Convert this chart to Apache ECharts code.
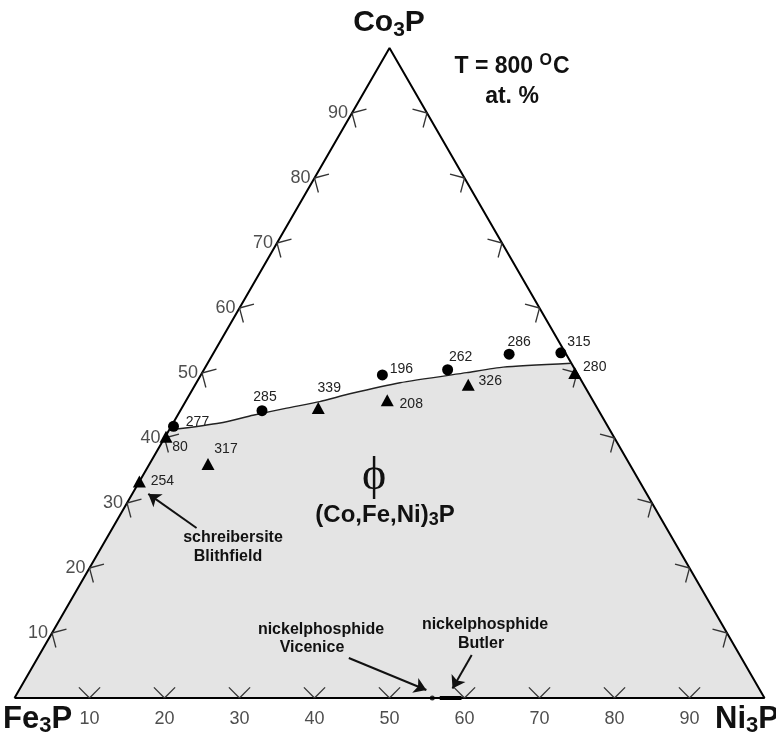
<!DOCTYPE html>
<html><head><meta charset="utf-8">
<script src="https://cdn.jsdelivr.net/npm/echarts@6/dist/echarts.min.js"></script>
<style>html,body{margin:0;padding:0;background:#fff}#c{width:776px;height:736px}</style>
</head><body><div id="c"></div>
<script>
// ---- Data (ternary, at.%: Co and Ni given, Fe = 100 - Co - Ni) ----
const tickValues = [10, 20, 30, 40, 50, 60, 70, 80, 90];
const circleIds = ['277', '285', '196', '262', '286', '315'];
const circleCo  = [41.8, 44.2, 49.7, 50.5, 52.9, 53.1];
const circleNi  = [0.3, 10.9, 24.2, 32.5, 39.5, 46.3];
const triIds = ['80', '317', '254', '339', '208', '326', '280'];
const triCo  = [40.2, 36.0, 33.3, 44.6, 45.8, 48.2, 50.0];
const triNi  = [0.1, 7.8, 0.0, 18.2, 26.8, 36.4, 49.7];
const boundaryCo = [41.2, 42.3, 43.5, 44.6, 45.6, 46.8, 48.5, 50.05, 50.9, 51.5];
const boundaryNi = [0.0, 6.25, 10.05, 14.0, 17.9, 21.3, 27.15, 35.27, 39.7, 48.5];
const vicenicePointNi = [55.7];
const butlerRangeNi = [56.7, 59.6];
// annotation arrows: [tailCo, tailNi, tipCo, tipNi]
const arrowSchreibersite = [26.15, 11.2, 31.4, 2.14];
const arrowVicenice = [6.15, 41.5, 1.23, 54.3];
const arrowButler = [6.6, 57.66, 1.48, 57.66];

// ---- helpers ----
const S3 = Math.sqrt(3) / 2;
function toXY(co, ni) { return [ni + co / 2, co * S3]; }

const FONT = 'Liberation Sans, Arial, sans-serif';
const labelOffsets = {
  '277': [24, -4], '285': [3, -14], '196': [19, -6], '262': [13, -13], '286': [10, -12], '315': [18, -11],
  '80': [14, 10], '317': [18, -15], '254': [23, 0], '339': [11, -20], '208': [24, 4], '326': [22, -4], '280': [20, -6]
};

const boundaryXY = boundaryCo.map((c, i) => toXY(c, boundaryNi[i]));
const fillPoly = [toXY(0, 0)].concat(boundaryXY, [toXY(0, 100)]);
const outline = [toXY(0, 0), toXY(0, 100), toXY(100, 0), toXY(0, 0)];

const tickData = [];
tickValues.forEach(k => {
  tickData.push(toXY(k, 0).concat([0]));      // left edge (Fe3P-Co3P)
  tickData.push(toXY(0, k).concat([1]));      // bottom edge (Fe3P-Ni3P)
  tickData.push(toXY(k, 100 - k).concat([2])); // right edge (Ni3P-Co3P)
});
const normals = [[0.866, 0.5], [0, -1], [-0.866, 0.5]];
const TICK_LEN = 15;

function ptSeries(ids, co, ni, symbol, size) {
  return {
    type: 'scatter', symbol: symbol, symbolSize: size, z: 6,
    itemStyle: { color: '#000', opacity: 1 },
    data: ids.map((id, i) => ({ name: id, value: toXY(co[i], ni[i]), label: { offset: labelOffsets[id] } })),
    label: { show: true, position: 'inside', formatter: '{b}', color: '#222', fontSize: 14, fontFamily: FONT },
    emphasis: { disabled: true }
  };
}

function arrowItem(a) { return { coords: [toXY(a[0], a[1]), toXY(a[2], a[3])] }; }

function chem(x, y, align, parts, big, small, drop) {
  return { type: 'text', x: x, y: y, z: 10, style: { text: parts, align: align, verticalAlign: 'middle',
    rich: { a: { fontSize: big, fontWeight: 'bold', fontFamily: FONT, lineHeight: big + 12, fill: '#111' },
            s: { fontSize: small, fontWeight: 'bold', fontFamily: FONT, lineHeight: big + 12 - drop, padding: [drop, 0, 0, 0], fill: '#111' } } } };
}
function note(x, y, t) {
  return { type: 'text', x: x, y: y, z: 10, style: { text: t, align: 'center', verticalAlign: 'middle', fontSize: 16, fontWeight: 'bold', fontFamily: FONT, fill: '#111' } };
}

const chart = echarts.init(document.getElementById('c'), null, { renderer: 'canvas' });
const option = {
  animation: false,
  backgroundColor: '#fff',
  grid: { left: 14.5, top: 48, width: 750, height: 650 },
  xAxis: { type: 'value', min: 0, max: 100, show: false },
  yAxis: { type: 'value', min: 0, max: 100 * S3, show: false },
  series: [
    { // gray phase field
      type: 'custom', z: 1, silent: true, data: [[0, 0]],
      renderItem: function (params, api) {
        return { type: 'polygon', shape: { points: fillPoly.map(p => api.coord(p)) }, style: { fill: '#e4e4e4' } };
      }
    },
    { // triangle outline
      type: 'line', data: outline, symbol: 'none', z: 3, silent: true,
      lineStyle: { color: '#000', width: 2 }
    },
    { // phase boundary
      type: 'line', data: boundaryXY, symbol: 'none', z: 3, silent: true, smooth: 0.2,
      lineStyle: { color: '#222', width: 1.4 }
    },
    { // ticks
      type: 'custom', z: 4, silent: true, data: tickData,
      renderItem: function (params, api) {
        const p = api.coord([api.value(0), api.value(1)]);
        const n = normals[api.value(2)];
        const children = [-1, 1].map(s => {
          const c = Math.cos(s * Math.PI / 4), si = Math.sin(s * Math.PI / 4);
          const dx = n[0] * c - n[1] * si, dy = n[0] * si + n[1] * c;
          return { type: 'line', shape: { x1: p[0], y1: p[1], x2: p[0] + dx * TICK_LEN, y2: p[1] + dy * TICK_LEN },
            style: { stroke: '#333', lineWidth: 1.3 } };
        });
        return { type: 'group', children: children };
      }
    },
    { // left tick labels (Co3P)
      type: 'scatter', symbolSize: 0, silent: true, z: 5,
      data: tickValues.map(k => ({ value: toXY(k, 0), name: String(k) })),
      label: { show: true, position: 'left', distance: 4, formatter: '{b}', color: '#222', fontSize: 18, fontFamily: FONT }
    },
    { // bottom tick labels (Ni3P)
      type: 'scatter', symbolSize: 0, silent: true, z: 5,
      data: tickValues.map(k => ({ value: toXY(0, k), name: String(k) })),
      label: { show: true, position: 'bottom', distance: 12, formatter: '{b}', color: '#222', fontSize: 18, fontFamily: FONT }
    },
    ptSeries(circleIds, circleCo, circleNi, 'circle', 11),
    ptSeries(triIds, triCo, triNi, 'triangle', [13, 12]),
    { // Vicenice point
      type: 'scatter', symbol: 'circle', symbolSize: 5, z: 6, silent: true,
      itemStyle: { color: '#000' }, data: vicenicePointNi.map(n => toXY(0, n))
    },
    { // Butler range
      type: 'line', symbol: 'none', z: 6, silent: true,
      lineStyle: { color: '#000', width: 4 }, data: butlerRangeNi.map(n => toXY(0, n))
    },
    { // annotation arrows
      type: 'lines', coordinateSystem: 'cartesian2d', z: 7, silent: true,
      symbol: ['none', 'arrow'], symbolSize: 12,
      lineStyle: { color: '#111', width: 2, opacity: 1, curveness: 0 },
      data: [arrowItem(arrowSchreibersite), arrowItem(arrowVicenice), arrowItem(arrowButler)]
    }
  ],
  graphic: [
    chem(389, 23, 'center', '{a|Co}{s|3}{a|P}', 30, 21, 14),
    chem(3, 719, 'left', '{a|Fe}{s|3}{a|P}', 31, 22, 14),
    chem(715, 719, 'left', '{a|Ni}{s|3}{a|P}', 31, 22, 14),
    { type: 'text', x: 512, y: 67, z: 10, style: { text: '{a|T = 800 }{u|O}{a|C}', align: 'center', verticalAlign: 'middle',
      rich: { a: { fontSize: 23, fontWeight: 'bold', fontFamily: FONT, lineHeight: 30, fill: '#111' },
              u: { fontSize: 16, fontWeight: 'bold', fontFamily: FONT, lineHeight: 18, padding: [0, 1, 12, 0], fill: '#111' } } } },
    { type: 'text', x: 512, y: 97, z: 10, style: { text: 'at. %', align: 'center', verticalAlign: 'middle',
      fontSize: 23, fontWeight: 'bold', fontFamily: FONT, fill: '#111' } },
    { type: 'text', x: 374, y: 477, z: 10, style: { text: '\u03D5', align: 'center', verticalAlign: 'middle',
      fontSize: 46, fontFamily: 'Liberation Serif, DejaVu Serif, serif', fill: '#111' } },
    chem(385, 515, 'center', '{a|(Co,Fe,Ni)}{s|3}{a|P}', 24, 18, 11),
    note(233, 538, 'schreibersite'),
    note(228, 557, 'Blithfield'),
    note(321, 630, 'nickelphosphide'),
    note(312, 648, 'Vicenice'),
    note(485, 625, 'nickelphosphide'),
    note(481, 644, 'Butler')
  ]
};
chart.setOption(option);
</script>
</body></html>
